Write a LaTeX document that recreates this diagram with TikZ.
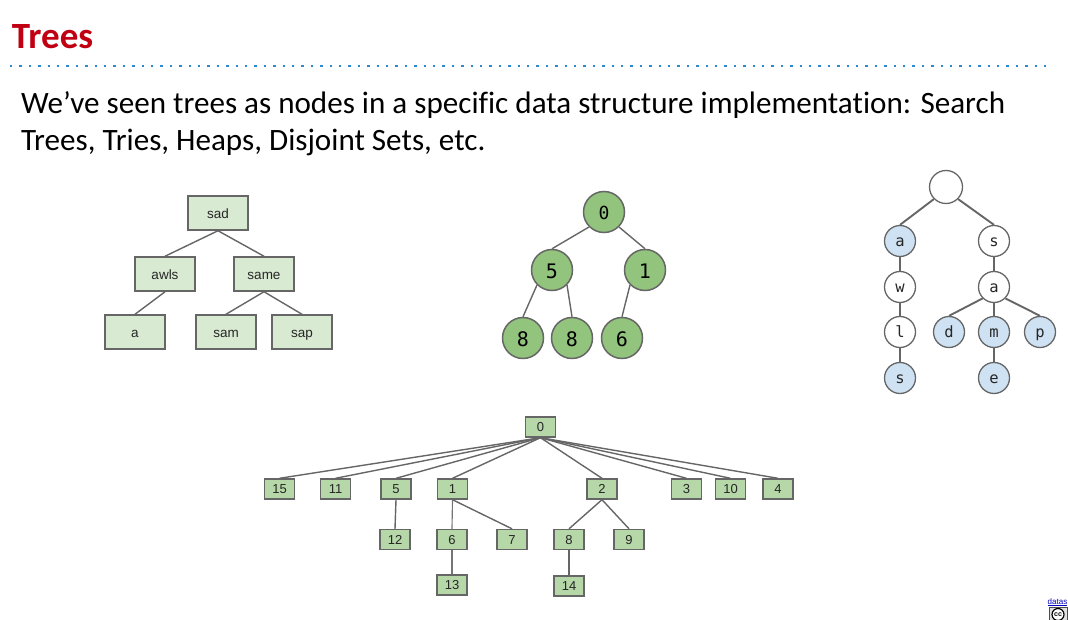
\documentclass[tikz,border=0pt]{standalone}
\usepackage{fontspec}
\setmainfont[Ligatures=NoCommon]{Carlito}
\newfontfamily\arialf{Liberation Sans}
\newfontfamily\monof{DejaVu Sans Mono}
\definecolor{titlered}{HTML}{C00012}
\definecolor{dotblue}{HTML}{2A8BD0}
\definecolor{edgegray}{HTML}{666666}
\definecolor{paleg}{HTML}{D9EAD3}
\definecolor{midg}{HTML}{93C47D}
\definecolor{softg}{HTML}{B6D7A8}
\definecolor{paleb}{HTML}{CFE2F3}
\tikzset{
  txt/.style={anchor=base west,inner sep=0pt,outer sep=0pt,text=black,font=\fontsize{31.1}{31.1}\selectfont},
  conn/.style={draw=edgegray,line width=1.4pt},
  connthin/.style={draw=edgegray!90,line width=1.15pt},
  connb/.style={draw=edgegray,line width=1.9pt},
  bigbox/.style={draw=edgegray,line width=1.5pt,fill=paleg,minimum width=60pt,minimum height=34pt,inner sep=0pt,text height=10.6pt,text depth=0pt,font=\arialf\fontsize{13.5}{13.5}\selectfont,text=black!85},
  heap/.style={circle,draw=edgegray,line width=1.5pt,fill=midg,minimum size=41pt,inner sep=0pt,text height=16.5pt,text depth=0pt,font=\monof\fontsize{20}{20}\selectfont,text=black},
  trie/.style={circle,draw=edgegray,line width=1.3pt,fill=white,minimum size=31pt,inner sep=0pt,text height=11.4pt,text depth=0pt,font=\monof\fontsize{15.5}{15.5}\selectfont,text=black!85},
  trieb/.style={trie,fill=paleb},
  smallbox/.style={draw=edgegray,line width=1.4pt,fill=softg,minimum width=30pt,minimum height=20pt,inner sep=0pt,text height=9.4pt,text depth=0pt,font=\arialf\fontsize{13}{13}\selectfont,text=black!85},
}
\begin{document}
\begin{tikzpicture}[x=1pt,y=-1pt]
\useasboundingbox (0,0) rectangle (1068,620);
\clip (0,0) rectangle (1068,620);
% header
\node[txt,text=titlered,font=\bfseries\fontsize{37}{37}\selectfont] (title) at (12,49) {Trees};
\coordinate (ruleL) at (10,66);
\coordinate (ruleR) at (1046,66);
\draw[dotblue,line width=2.4pt,dash pattern=on 2.4pt off 7pt] (ruleL) -- (ruleR);
\node[txt] (line1) at (21,114) {We’ve seen trees as nodes in a specific data structure implementation: Search};
\node[txt] (line2) at (21,151) {Trees, Tries, Heaps, Disjoint Sets, etc.};
% tree 1
\node[bigbox] (sad) at (218,213) {sad};
\node[bigbox] (awls) at (165,274) {awls};
\node[bigbox] (same) at (264,274) {same};
\node[bigbox] (a1) at (135,332) {a};
\node[bigbox] (sam) at (226,332) {sam};
\node[bigbox] (sap) at (302,332) {sap};
\foreach \p/\c in {sad/awls,sad/same,awls/a1,same/sam,same/sap}
  \draw[conn] (\p.south) -- (\c.north);
% tree 2
\node[heap,font=\monof\fontsize{18}{18}\selectfont,text height=14.6pt] (h0) at (604,212) {0};
\node[heap] (h5) at (552,270) {5};
\node[heap] (h1) at (645,270) {1};
\node[heap] (h8a) at (523,338) {8};
\node[heap] (h8b) at (572,338) {8};
\node[heap] (h6) at (622,338) {6};
\draw[conn] (h0.south west) -- (h5.north);
\draw[conn] (h0.south east) -- (h1.north);
\draw[conn] (h5.south west) -- (h8a.north);
\draw[conn] (h5.south east) -- (h8b.north);
\draw[conn] (h1.south west) -- (h6.north);
% tree 3
\node[trie,minimum size=33pt] (root) at (946,187) {};
\node[trieb] (ta) at (900,241) {a};
\node[trie] (tw) at (900,287) {w};
\node[trie] (tl) at (900,332) {l};
\node[trieb] (ts) at (900,378) {s};
\node[trie] (us) at (994,241) {s};
\node[trie] (ua) at (994,287) {a};
\node[trieb] (ud) at (949,332) {d};
\node[trieb] (um) at (994,332) {m};
\node[trieb] (up) at (1040,332) {p};
\node[trieb] (ue) at (994,378) {e};
\draw[connb] (root.south west) -- (ta.north);
\draw[connb] (root.south east) -- (us.north);
\foreach \p/\c in {ta/tw,tw/tl,tl/ts,us/ua,ua/um,um/ue}
  \draw[connb] (\p) -- (\c);
\draw[connb] (ua.south west) -- (ud.north);
\draw[connb] (ua.south east) -- (up.north);
% tree 4
\node[smallbox] (b0) at (540.5,427) {0};
\node[smallbox] (b15) at (279.5,489) {15};
\node[smallbox] (b11) at (335.5,489) {11};
\node[smallbox] (b5) at (396,489) {5};
\node[smallbox] (b1) at (452.5,489) {1};
\node[smallbox] (b2) at (602,489) {2};
\node[smallbox] (b3) at (686.5,489) {3};
\node[smallbox] (b10) at (730.5,489) {10};
\node[smallbox] (b4) at (778,489) {4};
\node[smallbox] (b12) at (395,539.5) {12};
\node[smallbox] (b6) at (452,539.5) {6};
\node[smallbox] (b7) at (512,539.5) {7};
\node[smallbox] (b8) at (569,539.5) {8};
\node[smallbox] (b9) at (629,539.5) {9};
\node[smallbox] (b13) at (452,585) {13};
\node[smallbox] (b14) at (569,586) {14};
\foreach \c in {b15,b11,b5,b1,b2,b3,b10,b4}
  \draw[conn] (b0.south) -- (\c.north);
\foreach \p/\c in {b5/b12,b1/b7,b2/b8,b2/b9,b8/b14}
  \draw[conn] (\p.south) -- (\c.north);
\foreach \p/\c in {b1/b6,b6/b13}
  \draw[connthin] (\p.south) -- (\c.north);
% licence corner
\node[anchor=base,inner sep=0pt,text=blue!75!black,font=\arialf\fontsize{8}{8}\selectfont] (datas) at (1057.5,604) {\underbar{datas}};
\node[draw=black!70,line width=.8pt,fill=black!12,minimum width=18pt,minimum height=16pt,inner sep=0pt,anchor=north west] (ccbox) at (1049,607) {};
\node[circle,draw=black,line width=1.2pt,fill=white,minimum size=12pt,inner sep=0pt,font=\arialf\bfseries\fontsize{7}{7}\selectfont] (cc) at (1058,614.5) {cc};
\end{tikzpicture}
\end{document}
